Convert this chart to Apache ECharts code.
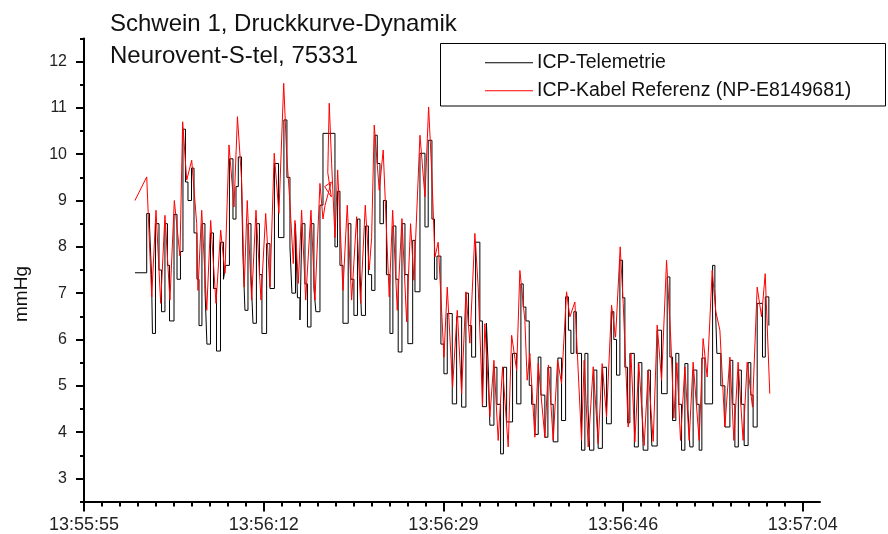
<!DOCTYPE html>
<html>
<head>
<meta charset="utf-8">
<script src="https://cdn.jsdelivr.net/npm/echarts@6/dist/echarts.min.js"></script>
<style>
html,body{margin:0;padding:0;background:#fff;}
#chart{width:888px;height:534px;}
</style>
</head>
<body>
<div id="chart"></div>
<script>
// time in seconds after 13:55:55
const titleLines = ['Schwein 1, Druckkurve-Dynamik', 'Neurovent-S-tel, 75331'];
const seriesNames = ['ICP-Telemetrie', 'ICP-Kabel Referenz (NP-E8149681)'];
const yAxisName = 'mmHg';
const startClock = [13, 55, 55];
const xTickValues = [0, 17.25, 34.5, 51.75, 69];
const yTickValues = [3, 4, 5, 6, 7, 8, 9, 10, 11, 12];

// ICP-Kabel Referenz (red)
const refTime = [4.89, 6.02, 6.50, 6.91, 7.36, 7.77, 8.25, 8.67, 9.21, 9.47, 9.86, 10.34, 10.82, 10.94, 11.30, 11.78, 12.16, 12.67, 13.12, 13.53, 13.92, 14.40, 14.73,
  15.13, 15.38, 15.67, 16.09, 16.51, 16.99, 17.44, 17.85, 18.26, 18.71, 19.17, 19.45, 19.77, 20.09, 20.25, 20.57, 20.89, 21.28, 21.79, 22.17, 22.65,
  22.94, 23.14, 23.74, 23.10, 23.74, 23.40, 23.54, 23.77, 24.09, 24.35, 24.86,
  25.27, 25.69, 26.17, 26.55, 27.00, 27.38, 27.61, 27.86, 28.34, 28.72, 29.30, 29.63, 30.07, 30.52, 30.97, 31.35, 31.67, 32.25, 32.73, 33.08, 33.37, 33.69, 34.00,
  34.55, 34.87, 35.38, 35.83, 36.25, 36.66, 37.04, 37.52, 37.84, 38.26, 38.48, 38.96, 39.35, 39.76, 40.18, 40.72, 41.05, 41.53, 41.84, 42.32, 42.54, 42.80, 43.28, 43.60,
  44.24, 44.58, 45.04, 45.46, 45.84, 46.32, 46.64, 47.12, 47.76, 48.01, 48.40, 48.88, 49.36, 49.74, 50.16, 50.64, 51.03, 51.47, 51.76, 52.24, 52.50, 52.88, 53.26, 53.77, 54.16, 54.64,
  55.02, 55.44, 55.92, 56.33, 56.62, 56.91, 57.26, 57.68, 58.09, 58.47, 59.05, 59.43, 59.82, 60.30, 60.65, 61.04, 61.52, 62.00, 62.38, 62.79, 63.27, 63.66, 64.17, 64.62, 65.04, 65.39, 65.83];
const refValue = [9.00, 9.51, 6.92, 8.79, 6.78, 8.68, 6.85, 9.00, 7.80, 10.70, 9.44, 9.87, 8.50, 7.06, 8.79, 6.63, 8.57, 6.78, 8.36, 7.43, 10.20, 8.86, 10.81,
  9.44, 7.13, 9.00, 6.85, 8.79, 6.85, 8.72, 7.13, 10.02, 8.72, 11.53, 10.02, 8.94, 7.64, 8.57, 7.21, 8.79, 6.85, 8.79, 6.85, 9.37,
  8.60, 8.90, 9.40, 9.30, 9.08, 9.60, 11.10, 9.80, 8.20, 9.66, 7.06,
  8.90, 6.85, 8.65, 6.78, 8.90, 7.50, 8.20, 10.63, 9.22, 10.09, 6.92, 8.79, 6.63, 8.61, 6.38, 8.50, 7.28, 10.41, 9.08, 11.02, 9.66, 7.78, 8.10,
  5.62, 7.13, 4.97, 6.63, 4.83, 7.03, 5.92, 8.29, 7.13, 4.58, 6.34, 4.33, 5.55, 3.82, 5.41, 3.68, 6.09, 5.33, 7.49, 6.41, 5.12, 5.70, 3.89, 5.48,
  3.88, 5.45, 3.82, 5.55, 5.05, 7.03, 6.49, 6.81, 3.82, 5.55, 3.68, 5.41, 3.75, 5.48, 4.33, 6.74, 6.05, 8.00, 6.78, 4.11, 5.70, 3.79, 5.48, 3.71, 5.33, 3.80,
  6.31, 5.12, 7.71, 6.00, 4.30, 5.50, 3.82, 5.41, 3.82, 5.51, 3.82, 6.02, 5.19, 7.49, 6.60, 6.20, 4.11, 5.62, 3.82, 5.51, 3.82, 5.51, 4.54, 7.13, 6.49, 7.42, 4.83];

// ICP-Telemetrie (black, sample-and-hold)
const telTime = [4.89, 6.02, 6.29, 6.48, 6.57, 6.86, 7.20, 7.44, 7.77, 8.01, 8.21, 8.64, 8.93, 9.26, 9.50, 9.74, 9.98, 10.32, 10.56, 10.84, 11.04, 11.32, 11.61, 11.80,
  12.14, 12.43, 12.72, 13.10, 13.39, 13.58, 13.96, 14.30, 14.59, 14.81, 15.12, 15.26, 15.45, 15.74, 16.03, 16.22, 16.55, 16.84, 17.08, 17.53, 17.85, 18.28, 18.67,
  19.19, 19.48, 19.77, 19.96, 20.30, 20.49, 20.73, 20.92, 21.21, 21.45, 21.79, 22.07, 22.26, 22.65, 22.94, 24.09, 24.33, 24.57, 24.86,
  25.36, 25.62, 25.91, 26.25, 26.49, 26.63, 27.02, 27.30, 27.61, 27.93, 28.15, 28.41, 28.74, 29.03, 29.37, 29.65, 29.94, 30.16, 30.52, 30.81, 31.09, 31.55, 31.77,
  32.25, 32.73, 33.04, 33.40, 33.64, 33.88, 34.26, 34.55, 34.87, 35.35, 35.77, 36.25, 36.66, 36.90, 37.21, 37.59, 38.00, 38.24, 38.63, 38.82, 38.96, 39.35, 39.64,
  39.99, 40.26, 40.57, 41.14, 41.53, 41.94, 42.16, 42.42, 42.74, 42.97, 43.28, 43.60, 43.86, 44.24, 44.53, 44.82, 45.04, 45.49, 45.84, 46.23, 46.50, 46.74, 47.02,
  47.26, 47.76, 48.08, 48.37, 48.53, 48.94, 49.23, 49.36, 49.76, 50.16, 50.62, 50.86, 51.12, 51.44, 51.70, 51.92, 52.18, 52.40, 52.83, 53.21, 53.55, 53.68, 54.13,
  54.37, 54.51, 55.02, 55.44, 55.98, 56.24, 56.50, 56.81, 57.10, 57.36, 57.68, 57.97, 58.16, 58.47, 58.83, 59.05, 59.31, 59.60, 60.34, 60.56, 60.75, 61.13, 61.52,
  62.00, 62.28, 62.48, 62.81, 63.10, 63.37, 63.75, 64.01, 64.23, 64.62, 65.13, 65.40, 65.74];
const telValue = [7.44, 8.72, 8.45, 7.40, 6.13, 8.50, 7.50, 6.60, 8.50, 7.60, 6.40, 8.70, 7.30, 7.90, 10.54, 9.40, 9.00, 9.70, 8.30, 7.30, 6.30, 8.50, 7.10, 5.90,
  8.30, 7.10, 5.75, 8.10, 7.30, 7.60, 9.90, 8.60, 9.30, 9.94, 9.40, 7.80, 6.63, 8.50, 7.40, 6.35, 8.50, 7.40, 6.13, 8.07, 7.10, 9.80, 8.20,
  10.74, 9.50, 8.00, 7.00, 8.50, 6.90, 6.42, 8.50, 7.20, 6.27, 8.50, 7.10, 6.60, 8.90, 10.45, 8.00, 9.20, 7.60, 6.35,
  8.50, 7.30, 6.52, 8.60, 7.50, 6.52, 8.45, 7.40, 7.06, 10.41, 9.80, 8.50, 9.00, 7.40, 6.13, 8.45, 7.30, 5.73, 8.50, 7.40, 5.91, 8.14, 7.03,
  10.02, 8.43, 10.30, 8.60, 7.30, 7.80, 5.90, 5.26, 6.56, 4.61, 6.49, 4.54, 7.00, 6.30, 5.62, 8.10, 6.40, 4.55, 6.35, 5.30, 4.15, 5.40, 4.60,
  3.53, 5.40, 4.22, 5.70, 4.61, 7.20, 6.70, 6.40, 5.01, 4.60, 3.95, 5.62, 4.80, 3.89, 5.40, 4.60, 3.79, 5.60, 4.25, 6.92, 6.20, 5.70, 6.60,
  5.70, 3.61, 5.70, 4.60, 3.61, 5.34, 4.50, 3.65, 5.40, 4.18, 6.60, 6.00, 5.23, 7.71, 6.90, 5.40, 4.20, 5.70, 3.68, 5.50, 4.60, 3.61, 5.34,
  4.50, 3.70, 6.20, 4.83, 7.35, 5.62, 4.25, 5.70, 4.60, 3.61, 5.48, 4.50, 3.68, 5.34, 4.60, 3.61, 5.60, 4.61, 7.60, 7.10, 5.70, 5.00, 4.11,
  5.55, 4.60, 3.68, 5.34, 4.60, 3.71, 5.50, 4.80, 4.11, 6.78, 5.62, 6.92, 6.30];

const X_MIN = 0, X_MAX = 70.65, Y_MIN = 2.5, Y_MAX = 12.5;
const xMinor = [];
for (let i = 1; i * 1.725 < X_MAX; i++) { if (i % 10 !== 0) xMinor.push(+(i * 1.725).toFixed(3)); }
const yMinor = [];
for (let v = 2.5; v <= 12.5; v += 1) yMinor.push(v);

function clockLabel(v) {
  let s = startClock[0] * 3600 + startClock[1] * 60 + startClock[2] + Math.floor(v + 1e-6);
  const h = Math.floor(s / 3600), m = Math.floor((s % 3600) / 60), sec = s % 60;
  const p = n => (n < 10 ? '0' : '') + n;
  return p(h) + ':' + p(m) + ':' + p(sec);
}

const FONT = '"Liberation Sans", Arial, sans-serif';
const chart = echarts.init(document.getElementById('chart'), null, {renderer: 'canvas'});
const zip = (a, b) => a.map((t, i) => [t, b[i]]);

chart.setOption({
  animation: false,
  backgroundColor: '#fff',
  title: {
    text: titleLines.join('\n'),
    left: 110, top: 8, padding: 0,
    textStyle: {fontFamily: FONT, fontSize: 24, fontWeight: 'normal', color: '#111', lineHeight: 32.5}
  },
  graphic: [{
    type: 'rect', shape: {x: 440.5, y: 43.5, width: 445, height: 62.5},
    style: {fill: 'none', stroke: '#000', lineWidth: 1}, z: 10
  }, {
    type: 'text', x: 22, y: 294, rotation: Math.PI / 2,
    style: {text: yAxisName, fontFamily: FONT, fontSize: 19, fill: '#111', align: 'center', verticalAlign: 'middle'}
  }],
  legend: [
    {data: [seriesNames[0]], orient: 'vertical', left: 485, top: 52.7, padding: 0, itemWidth: 48, itemHeight: 1, itemGap: 0,
     icon: 'rect', textStyle: {fontFamily: FONT, fontSize: 19.5, color: '#111', lineHeight: 20, padding: [0, 0, 0, -1]}},
    {data: [seriesNames[1]], orient: 'vertical', left: 485, top: 80.7, padding: 0, itemWidth: 48, itemHeight: 1, itemGap: 0,
     icon: 'rect', textStyle: {fontFamily: FONT, fontSize: 19.5, color: '#111', lineHeight: 20, padding: [0, 0, 0, -1]}}
  ],
  grid: {left: 84, right: 68, top: 38.4, bottom: 32.4, containLabel: false, outerBoundsMode: 'none'},
  xAxis: [{
    type: 'value', min: X_MIN, max: X_MAX,
    axisLine: {show: true, onZero: false, lineStyle: {color: '#000', width: 2}},
    axisTick: {show: true, inside: false, length: 10, customValues: xTickValues, lineStyle: {color: '#000', width: 2}},
    axisLabel: {show: true, customValues: xTickValues, margin: 14, formatter: clockLabel,
      fontFamily: FONT, fontSize: 18, color: '#222'},
    splitLine: {show: false}
  }, {
    type: 'value', min: X_MIN, max: X_MAX, position: 'bottom',
    axisLine: {show: false},
    axisTick: {show: true, inside: false, length: 5, customValues: xMinor, lineStyle: {color: '#000', width: 2}},
    axisLabel: {show: false},
    splitLine: {show: false}
  }],
  yAxis: [{
    type: 'value', min: Y_MIN, max: Y_MAX,
    axisLine: {show: true, onZero: false, lineStyle: {color: '#000', width: 2}},
    axisTick: {show: true, inside: false, length: 8, customValues: yTickValues, lineStyle: {color: '#000', width: 2}},
    axisLabel: {show: true, customValues: yTickValues, margin: 17, fontFamily: FONT, fontSize: 16, color: '#222'},
    splitLine: {show: false}
  }, {
    type: 'value', min: Y_MIN, max: Y_MAX, position: 'left',
    axisLine: {show: false},
    axisTick: {show: true, inside: false, length: 4, customValues: yMinor, lineStyle: {color: '#000', width: 2}},
    axisLabel: {show: false},
    splitLine: {show: false}
  }],
  series: [{
    name: seriesNames[0], type: 'line', step: 'end', data: zip(telTime, telValue),
    showSymbol: false, symbol: 'none', color: '#000', lineStyle: {color: '#000', width: 1}, z: 3
  }, {
    name: seriesNames[1], type: 'line', data: zip(refTime, refValue),
    showSymbol: false, symbol: 'none', color: '#ff0000', lineStyle: {color: '#ff0000', width: 1}, z: 4
  }]
});
</script>
</body>
</html>
